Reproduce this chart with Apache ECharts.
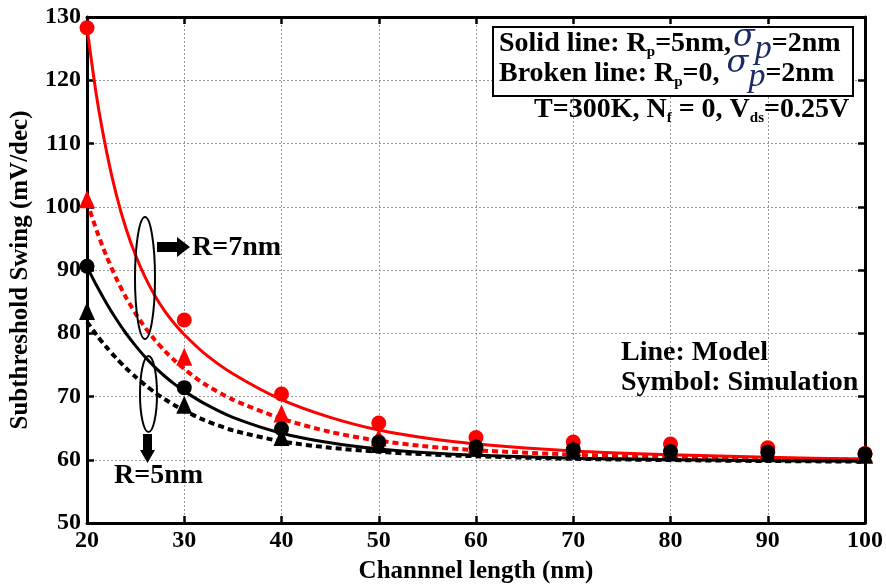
<!DOCTYPE html>
<html><head><meta charset="utf-8">
<script src="https://cdn.jsdelivr.net/npm/echarts@6/dist/echarts.min.js"></script>
<style>html,body{margin:0;padding:0;background:#fff}#c{width:886px;height:584px}</style>
</head><body><div id="c"></div>
<script>
// ---- data ----
const modelL    = [20,21,22,23,24,25,26,27,28,29,30,32,35,40,45,50,55,60,70,80,90,100];
const redSolid  = [128.3,117.3,108.8,102.0,96.6,92.3,88.8,85.9,83.5,81.5,79.8,76.9,73.6,69.5,66.7,64.7,63.4,62.5,61.4,60.8,60.4,60.1];
const redDash   = [100.8,96.2,92.2,88.7,85.7,83.1,80.85,78.9,77.2,75.7,74.35,72.05,69.5,66.5,64.4,63.0,62.1,61.5,60.8,60.4,60.15,60.0];
const blackSolid= [90.5,87.5,84.75,82.25,80.0,78.0,76.2,74.6,73.2,71.95,70.85,68.95,66.7,64.2,62.7,61.7,61.1,60.7,60.25,60.0,59.85,59.75];
const blackDash = [81.8,79.7,77.8,76.08,74.51,73.08,71.78,70.61,69.57,68.63,67.78,66.3,64.65,62.9,61.9,61.25,60.85,60.55,60.15,59.95,59.8,59.7];

const simL        = [20,30,40,50,60,70,80,90,100];
const redCircle   = [128.3,82.1,70.4,65.8,63.5,62.8,62.5,61.9,61.0];
const redTri      = [101.2,76.3,67.3,63.5,62.5,62.0,61.8,61.5,61.0];
const blackCircle = [90.6,71.4,64.9,62.8,62.0,61.6,61.3,61.2,60.9];
const blackTri    = [83.5,68.7,63.6,62.5,61.9,61.6,61.2,61.1,60.8];

const xTicks = [20,30,40,50,60,70,80,90,100];
const yTicks = [50,60,70,80,90,100,110,120,130];

const zip = (xs, ys) => xs.map((x,i)=>[x, ys[i]]);
const SERIF = '"Liberation Serif","Times New Roman",serif';

const chart = echarts.init(document.getElementById('c'), null, {renderer:'canvas'});

const axisCommon = {
  axisLine:{show:true, onZero:false, lineStyle:{color:'#000', width:3}},
  axisTick:{show:true, inside:true, length:7, lineStyle:{color:'#000', width:2.5}},
};

function lineSeries(data, color, dashed){
  return {type:'line', data, symbol:'none', smooth:0.25, z:2,
    lineStyle:{color, width: dashed?4:3, type: dashed?[6,4]:'solid'}};
}
function scat(data, color, sym, size){
  return {type:'scatter', data, symbol:sym, symbolSize:size, z:3, itemStyle:{color, opacity:1}};
}

// ---- text runs ----
const mctx = document.createElement('canvas').getContext('2d');
function runs(x, base, list){
  const out=[]; let cx=x;
  list.forEach(r=>{
    const size=r.s||28, w=r.w||'bold', st=r.i?'italic':'normal', fam=r.f||SERIF;
    const font = `${st} ${w} ${size}px ${fam}`;
    mctx.font = font;
    const wd = mctx.measureText(r.t).width;
    cx += (r.dx||0);
    out.push({type:'text', x:cx, y:base + (r.dy||0), z:50,
      style:{text:r.t, font, fill:r.c||'#000', textAlign:'left', textVerticalAlign:'bottom', align:'left', verticalAlign:'bottom'}});
    cx += wd;
  });
  return out;
}
function arrowRight(x0,x1,y,h,hw,hl){
  return {type:'polygon', z:50, shape:{points:[[x0,y-h/2],[x1-hl,y-h/2],[x1-hl,y-hw/2],[x1,y],[x1-hl,y+hw/2],[x1-hl,y+h/2],[x0,y+h/2]]}, style:{fill:'#000'}};
}
function arrowDown(x,y0,y1,w,hw,hl){
  return {type:'polygon', z:50, shape:{points:[[x-w/2,y0],[x+w/2,y0],[x+w/2,y1-hl],[x+hw/2,y1-hl],[x,y1],[x-hw/2,y1-hl],[x-w/2,y1-hl]]}, style:{fill:'#000'}};
}

const SIG = '#1c2a66';
let graphics = [
  {type:'rect', z:49, shape:{x:493,y:27,width:360,height:69}, style:{fill:'#fff', stroke:'#000', lineWidth:2}},
  ...runs(499, 58, [{t:'Solid line: R'},{t:'p',s:15,dy:2},{t:'=5nm,'},{t:'σ',i:true,w:'normal',s:32,c:SIG,dy:-4,dx:2,f:'"DejaVu Serif",serif'},{t:'p',i:true,w:'normal',s:34,c:SIG,dy:8},{t:'=2nm'}]),
  ...runs(499, 88, [{t:'Broken line: R'},{t:'p',s:15,dy:2},{t:'=0, '},{t:'σ',i:true,w:'normal',s:32,c:SIG,dy:-8,f:'"DejaVu Serif",serif'},{t:'p',i:true,w:'normal',s:34,c:SIG,dy:6},{t:'=2nm'}]),
  ...runs(534, 124, [{t:'T=300K, N'},{t:'f',s:15,dy:2},{t:' = 0, V'},{t:'ds',s:15,dy:2},{t:'=0.25V'}]),
  ...runs(621, 367, [{t:'Line: Model'}]),
  ...runs(621, 397, [{t:'Symbol: Simulation'}]),
  ...runs(192, 262, [{t:'R=7nm'}]),
  ...runs(114, 490, [{t:'R=5nm'}]),
  {type:'ellipse', z:50, shape:{cx:145,cy:278,rx:10,ry:61}, style:{fill:'none', stroke:'#000', lineWidth:2}},
  {type:'ellipse', z:50, shape:{cx:148.5,cy:394,rx:8.5,ry:38}, style:{fill:'none', stroke:'#000', lineWidth:2}},
  arrowRight(157,190,247,10,20,13),
  arrowDown(147.5,434,463,9,15,13),
];

const option = {
  backgroundColor:'#fff',
  animation:false,
  grid:{left:87, right:21, top:17, bottom:61, containLabel:false, outerBoundsMode:'none'},
  xAxis:[
    {type:'value', min:20, max:100, interval:10, position:'bottom', ...axisCommon,
     name:'Channnel length (nm)', nameLocation:'middle', nameGap:36,
     nameTextStyle:{fontFamily:SERIF, fontWeight:'bold', fontSize:25, color:'#000'},
     axisLabel:{color:'#000', fontFamily:SERIF, fontWeight:'bold', fontSize:24, margin:6,
       customValues: xTicks},
     splitLine:{show:true, lineStyle:{color:'#999', width:1, type:[2,2]}}},
    {type:'value', min:20, max:100, interval:10, position:'top', ...axisCommon,
     axisLabel:{show:false}, splitLine:{show:false}}
  ],
  yAxis:[
    {type:'value', min:50, max:130, interval:10, position:'left', ...axisCommon,
     name:'Subthreshold Swing (mV/dec)', nameLocation:'middle', nameGap:54,
     nameTextStyle:{fontFamily:SERIF, fontWeight:'bold', fontSize:25, color:'#000'},
     axisLabel:{color:'#000', fontFamily:SERIF, fontWeight:'bold', fontSize:24, margin:6,
       customValues: yTicks},
     splitLine:{show:true, lineStyle:{color:'#999', width:1, type:[2,2]}}},
    {type:'value', min:50, max:130, interval:10, position:'right', ...axisCommon,
     axisLabel:{show:false}, splitLine:{show:false}}
  ],
  series:[
    lineSeries(zip(modelL, redSolid), '#ff0000', false),
    lineSeries(zip(modelL, redDash), '#ff0000', true),
    lineSeries(zip(modelL, blackSolid), '#000000', false),
    lineSeries(zip(modelL, blackDash), '#000000', true),
    scat(zip(simL, redCircle), '#ff0000', 'circle', 15),
    scat(zip(simL, redTri), '#ff0000', 'triangle', [16,18]),
    scat(zip(simL, blackCircle), '#000000', 'circle', 15),
    scat(zip(simL, blackTri), '#000000', 'triangle', [16,18]),
  ],
  graphic: graphics
};
chart.setOption(option);
</script></body></html>
